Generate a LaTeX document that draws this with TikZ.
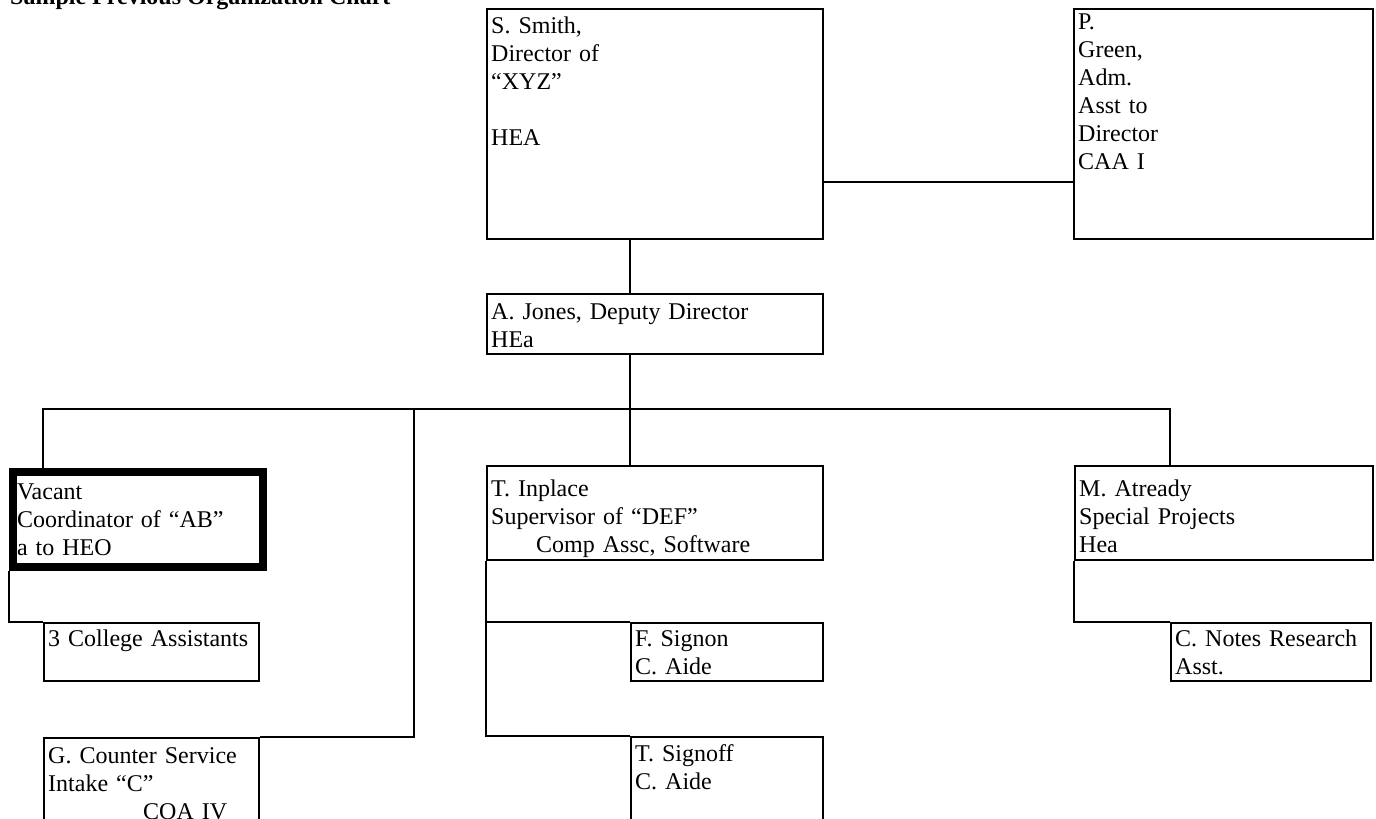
\documentclass[tikz,border=0pt]{standalone}
\usepackage{fontspec}
\setmainfont{Liberation Serif}
\usepackage{tikz}
\usetikzlibrary{calc}

\tikzset{
  orgbox/.style 2 args={draw, line width=2.4pt, inner xsep=4pt, inner ysep=0pt,
    anchor=north west, align=left, text height=24pt, text width=#1pt, text depth=#2pt},
  link/.style={line width=2.4pt}
}

\begin{document}
\begin{tikzpicture}[x=1pt,y=-1pt,font=\fontsize{24}{28}\selectfont]
\useasboundingbox (0,0) rectangle (1376,819);
\node[anchor=base west,inner sep=0pt,font=\fontsize{24}{28}\selectfont\bfseries] (title) at (10,5) {Sample Previous Organization Chart};
\node[orgbox={328}{206}] (smith) at (486,8) {S. Smith,\\Director of\\“XYZ”\\\mbox{}\\HEA};
\node[orgbox={291}{210},text height=20pt] (green) at (1073,8) {P.\\Green,\\Adm.\\Asst to\\Director\\CAA I};
\node[orgbox={328}{35},text height=25pt] (jones) at (486,293) {A. Jones, Deputy Director\\HEa};
\node[orgbox={242}{68},line width=8pt,text height=27pt] (vacant) at (9,468) {Vacant\\Coordinator of “AB”\\a to HEO};
\node[orgbox={207}{35},text height=23pt] (college) at (43,622) {3 College Assistants};
\node[orgbox={207}{95},text height=25pt] (counter) at (43,737) {G. Counter Service\\Intake “C”\\\hspace*{95pt}COA IV};
\node[orgbox={328}{64},text height=30pt] (inplace) at (486,465) {T. Inplace\\Supervisor of “DEF”\\\hspace*{45pt}Comp Assc, Software};
\node[orgbox={184}{35},text height=23pt] (signon) at (630,622) {F. Signon\\C. Aide};
\node[orgbox={184}{96}] (signoff) at (630,736) {T. Signoff\\C. Aide};
\node[orgbox={290}{64},text height=30pt] (atready) at (1074,465) {M. Atready\\Special Projects\\Hea};
\node[orgbox={192}{35},text height=23pt] (notes) at (1170,622) {C. Notes Research\\Asst.};
\coordinate (bar) at (630,409);
\coordinate (split) at (414,409);
\draw[link] ([yshift=-174pt]smith.north east) -- ([yshift=-174pt]green.north west);
\draw[link] (smith.south -| bar) -- (jones.north -| bar);
\draw[link] (jones.south -| bar) -- (bar);
\draw[link] ([xshift=34pt]vacant.north west) |- (bar) -| ([xshift=96pt]atready.north west);
\draw[link] (bar) -- (inplace.north -| bar);
\draw[link] (split) |- (counter.north east);
\draw[link] (vacant.south west) |- (college.north west);
\draw[link] (inplace.south west) |- (signon.north west);
\draw[link] (inplace.south west) |- (signoff.north west);
\draw[link] (atready.south west) |- (notes.north west);
\end{tikzpicture}
\end{document}
